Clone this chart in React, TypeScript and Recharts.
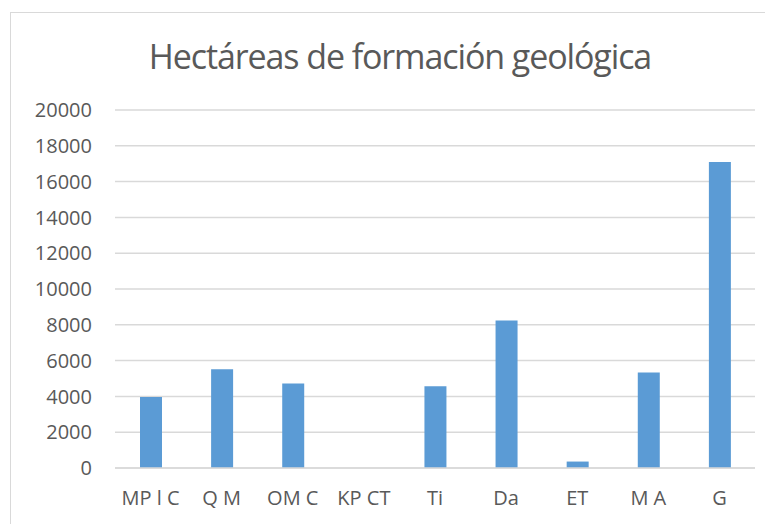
import React from "react";
import { BarChart, Bar, XAxis, YAxis, CartesianGrid } from "recharts";

const categories = ["MP l C", "Q M", "OM C", "KP CT", "Ti", "Da", "ET", "M A", "G"];
const hectareas = [3970, 5520, 4720, 0, 4570, 8240, 360, 5340, 17100];
const yTicks = [0, 2000, 4000, 6000, 8000, 10000, 12000, 14000, 16000, 18000, 20000];

const data = categories.map((name, i) => ({ name, value: hectareas[i] }));

const FONT = "'Open Sans', sans-serif";
const TEXT = "#595959";

const App: React.FC = () => {
  return (
    <div
      style={{
        position: "absolute",
        left: 0,
        top: 0,
        width: 765,
        height: 524,
        overflow: "hidden",
        background: "#fff",
      }}
    >
      <div
        style={{
          position: "absolute",
          left: 10,
          top: 12,
          width: 800,
          height: 560,
          border: "1px solid #d9d9d9",
        }}
      />
      <div
        style={{
          position: "absolute",
          left: 0,
          top: 31,
          width: 800,
          textAlign: "center",
          fontFamily: FONT,
          fontSize: 34,
          letterSpacing: -1.1,
          color: TEXT,
          lineHeight: "50px",
        }}
      >
        Hectáreas de formación geológica
      </div>
      <div style={{ position: "absolute", left: 0, top: 0 }}>
        <BarChart
          width={765}
          height={524}
          data={data}
          margin={{ top: 110, right: 10, bottom: 26, left: 55 }}
        >
          <CartesianGrid vertical={false} stroke="#d9d9d9" strokeWidth={1.5} />
          <XAxis
            dataKey="name"
            tickLine={false}
            axisLine={{ stroke: "#d9d9d9", strokeWidth: 1.5 }}
            tickMargin={17}
            tick={{ fill: TEXT, fontSize: 20, fontFamily: FONT }}
            interval={0}
          />
          <YAxis
            width={60}
            domain={[0, 20000]}
            ticks={yTicks}
            tickLine={false}
            axisLine={false}
            tickMargin={17}
            tick={{ fill: TEXT, fontSize: 20, fontFamily: FONT }}
          />
          <Bar dataKey="value" fill="#5b9bd5" barSize={22} isAnimationActive={false} />
        </BarChart>
      </div>
    </div>
  );
};

export default App;
